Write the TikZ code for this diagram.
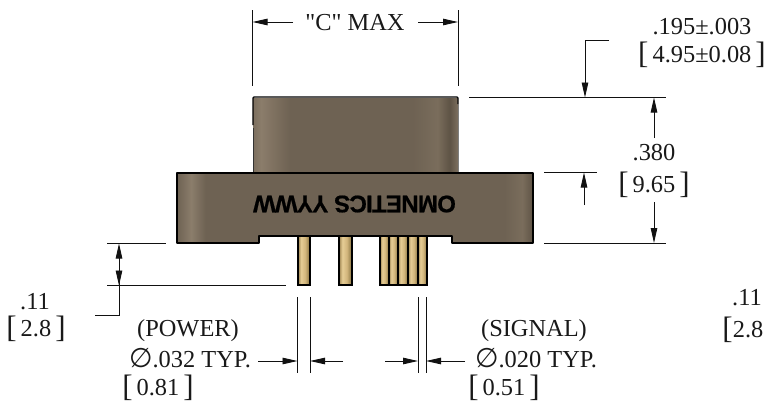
\documentclass[tikz,border=0pt]{standalone}
\usepackage{fontspec}
\newfontfamily\drawfont{Liberation Serif}
\newfontfamily\phifont{DejaVu Sans}
\newfontfamily\marksans[BoldFeatures={FakeBold=0.7,LetterSpace=-3}]{Liberation Sans}
\usetikzlibrary{arrows.meta}
\definecolor{dimc}{HTML}{111111}
\definecolor{BA}{HTML}{7C6F5F}
\definecolor{BB}{HTML}{8B7D6B}
\definecolor{BC}{HTML}{7E7160}
\definecolor{BD}{HTML}{6E6253}
\definecolor{BE}{HTML}{7A6D5C}
\definecolor{BF}{HTML}{5E5345}
\definecolor{PA}{HTML}{9C8450}
\definecolor{PB}{HTML}{E6CD96}
\definecolor{PC}{HTML}{D2B67C}
\definecolor{PD}{HTML}{84703E}
\pgfdeclarehorizontalshading{bodyshade}{100bp}{color(0bp)=(BA);color(25bp)=(BA);color(27bp)=(BB);color(30bp)=(BC);color(34bp)=(BD);color(64bp)=(BD);color(70bp)=(BE);color(73bp)=(BF);color(75bp)=(BA);color(100bp)=(BA)}
\pgfdeclarehorizontalshading{flangeshade}{100bp}{color(0bp)=(BD);color(25bp)=(BD);color(27bp)=(BB);color(29bp)=(BD);color(71bp)=(BD);color(73.5bp)=(BE);color(75bp)=(BF);color(100bp)=(BF)}
\pgfdeclarehorizontalshading{pinshade}{100bp}{color(0bp)=(PA);color(25bp)=(PA);color(38bp)=(PB);color(55bp)=(PC);color(75bp)=(PD);color(100bp)=(PD)}
\tikzset{
  dimtext/.style={font=\drawfont\fontsize{24.4}{24.4}\selectfont,inner sep=0pt,text=black!90},
  dimline/.style={draw=dimc,line width=0.9pt},
  dimarrow/.style={dimline,-{Triangle[length=15pt,width=6.5pt]}},
  outline/.style={draw=black,line width=1.4pt},
  pinbody/.style={shading=pinshade,draw=black,line width=1.3pt},
}
\newcommand{\bigbr}[1]{{\fontsize{31}{31}\selectfont\raisebox{-1pt}{#1}}}
\newcommand{\phisym}{{\phifont\fontsize{27}{27}\selectfont ∅}}
\begin{document}
\begin{tikzpicture}[x=1pt,y=-1pt]
\useasboundingbox (0,0) rectangle (765,407);
% pins
\path[pinbody] (298,230) rectangle (310,285);
\path[pinbody] (339,230) rectangle (352,285);
\path[pinbody] (380,230) rectangle (389,285);
\path[pinbody] (389,230) rectangle (398,285);
\path[pinbody] (398,230) rectangle (408,285);
\path[pinbody] (408,230) rectangle (418,285);
\path[pinbody] (418,230) rectangle (427,285);
% upper body
\path[shading=bodyshade] (253,98) rectangle (458,173);
\draw[black,line width=1.2pt,rounded corners=1pt] (253,125) -- (253,97) -- (458,97) -- (458,104);
\draw[black!80,line width=0.8pt] (253,128) -- (253,172);
\draw[black!50,line width=0.7pt] (458,104) -- (458,172);
% flange
\path[shading=flangeshade,outline,line join=round] (177,173) -- (533,173) -- (533,243) -- (452,243) -- (452,236) -- (259,236) -- (259,243) -- (177,243) -- cycle;
\node[rotate=180,inner sep=0pt,font=\marksans\bfseries\fontsize{24}{24}\selectfont] (mark) at (354.5,204) {OMNETICS YYWW};
% C MAX
\coordinate (cl) at (252.5,22); \coordinate (cr) at (458,22);
\draw[dimline] (252.5,10) -- (252.5,86);
\draw[dimline] (458,10) -- (458,86);
\node[dimtext] (cmax) at (355,23) {"C" MAX};
\draw[dimarrow] (293,22) -- (cl);
\draw[dimarrow] (418,22) -- (cr);
% .195
\node[dimtext] (t195) at (702,27) {.195±.003};
\node[dimtext] (t495) at (702,55) {\bigbr{[}\,4.95±0.08\,\bigbr{]}};
\draw[dimline] (469,97.5) -- (666,97.5);
\draw[dimarrow] (609,40) -- (585,40) -- (585,97.5);
% .380
\node[dimtext] (t380) at (654,153) {.380};
\node[dimtext] (t965) at (654,185) {\bigbr{[}\,9.65\,\bigbr{]}};
\draw[dimarrow] (654,138) -- (654,97.5);
\draw[dimarrow] (654,202) -- (654,243);
\draw[dimline] (544,243) -- (666,243);
% flange thickness
\draw[dimline] (544,172.5) -- (597,172.5);
\draw[dimarrow] (584,205) -- (584,172.5);
% left .11
\draw[dimline] (107,243.5) -- (166,243.5);
\draw[dimline] (107,285.5) -- (286,285.5);
\draw[dimline] (95,315) -- (119,315) -- (119,262);
\draw[dimarrow] (119,265) -- (119,243.5);
\draw[dimarrow] (119,264) -- (119,285.5);
\node[dimtext] (l11) at (35,302) {.11};
\node[dimtext] (l28) at (36,329) {\bigbr{[}\,2.8\,\bigbr{]}};
% right .11
\node[dimtext] (r11) at (747,298) {.11};
\node[dimtext,anchor=east] (r28) at (763.5,330) {\bigbr{[}2.8};
% power
\draw[dimline] (297.5,297) -- (297.5,373);
\draw[dimline] (310,297) -- (310,373);
\draw[dimarrow] (258,361) -- (297.5,361);
\draw[dimarrow] (343,361) -- (310,361);
\node[dimtext] (pw) at (188,331) {(POWER)};
\node[dimtext] (p032) at (190,358) {\phisym.032 TYP.};
\node[dimtext] (p081) at (158,388) {\bigbr{[}\,0.81\,\bigbr{]}};
% signal
\draw[dimline] (418,297) -- (418,373);
\draw[dimline] (426,297) -- (426,373);
\draw[dimarrow] (385,361) -- (418,361);
\draw[dimarrow] (465,361) -- (426,361);
\node[dimtext] (sg) at (534,331) {(SIGNAL)};
\node[dimtext] (s020) at (536,358) {\phisym.020 TYP.};
\node[dimtext] (s051) at (504,388) {\bigbr{[}\,0.51\,\bigbr{]}};
\end{tikzpicture}
\end{document}
